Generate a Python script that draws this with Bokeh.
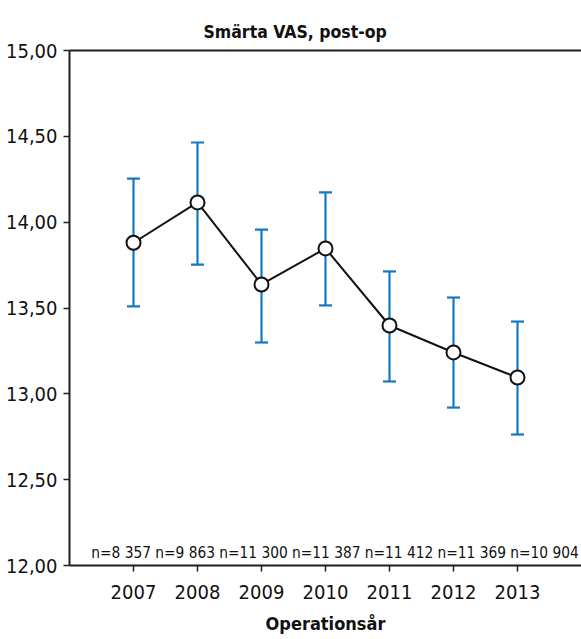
from bokeh.plotting import figure
from bokeh.models import (ColumnDataSource, Whisker, TeeHead, LinearAxis, Range1d,
                          FixedTicker, CustomJSTickFormatter, Label, Title)
from bokeh.embed import file_html
from bokeh.resources import INLINE

years = [2007, 2008, 2009, 2010, 2011, 2012, 2013]
means = [13.88, 14.115, 13.637, 13.847, 13.398, 13.241, 13.095]
upper = [14.254, 14.464, 13.957, 14.173, 13.713, 13.561, 13.421]
lower = [13.509, 13.753, 13.299, 13.515, 13.072, 12.92, 12.763]
n_labels = ["n=8 357", "n=9 863", "n=11 300", "n=11 387", "n=11 412", "n=11 369", "n=10 904"]
y_ticks = [12.0, 12.5, 13.0, 13.5, 14.0, 14.5, 15.0]

FONT = "DejaVu Sans Condensed"
BLUE = "#1479c2"
AXC = "#1e1e1e"

src = ColumnDataSource(dict(x=years, y=means, up=upper, lo=lower))

p = figure(frame_width=512, frame_height=515, output_backend="svg", toolbar_location=None,
           x_range=Range1d(years[0] - 1, years[-1] + 1),
           y_range=Range1d(y_ticks[0], y_ticks[-1]),
           min_border_left=69, min_border_right=0, min_border_top=50, min_border_bottom=74,
           x_axis_location=None, y_axis_location=None)
p.outline_line_color = None
p.grid.visible = False
p.background_fill_color = "white"
p.border_fill_color = "white"

# top frame line (added first so it sits right on the frame)
top = LinearAxis(ticker=FixedTicker(ticks=[]))
top.axis_line_color = AXC
top.axis_line_width = 2
top.major_tick_line_color = None
top.minor_tick_line_color = None
top.major_label_text_font_size = "0px"
top.major_label_standoff = 0
p.add_layout(top, "above")

# title
t = Title(text="Smärta VAS, post-op", align="left", offset=134,
          text_font=FONT, text_font_size="17.5px", text_font_style="bold", text_color="#111111",
          standoff=18)
p.add_layout(t, "above")

# axes
xa = LinearAxis(ticker=FixedTicker(ticks=years),
                axis_label="Operationsår")
xa.axis_line_color = AXC
xa.axis_line_width = 2
xa.major_tick_line_color = AXC
xa.major_tick_line_width = 1.5
xa.major_tick_out = 6
xa.major_tick_in = 0
xa.minor_tick_line_color = None
xa.major_label_text_font = FONT
xa.major_label_text_font_size = "20px"
xa.major_label_text_color = "#111111"
xa.major_label_standoff = 13
xa.axis_label_text_font = FONT
xa.axis_label_text_font_size = "18px"
xa.axis_label_text_font_style = "bold"
xa.axis_label_text_color = "#111111"
xa.axis_label_standoff = 11
p.add_layout(xa, "below")

ya = LinearAxis(ticker=FixedTicker(ticks=y_ticks),
                formatter=CustomJSTickFormatter(code="return tick.toFixed(2).replace('.', ',');"))
ya.axis_line_color = AXC
ya.axis_line_width = 2
ya.major_tick_line_color = AXC
ya.major_tick_line_width = 1.5
ya.major_tick_out = 6
ya.major_tick_in = 0
ya.minor_tick_line_color = None
ya.major_label_text_font = FONT
ya.major_label_text_font_size = "20px"
ya.major_label_text_color = "#111111"
ya.major_label_standoff = 6
p.add_layout(ya, "left")

# error bars
w = Whisker(source=src, base="x", upper="up", lower="lo", dimension="height",
            line_color=BLUE, line_width=2.2,
            upper_head=TeeHead(size=13, line_color=BLUE, line_width=2.2),
            lower_head=TeeHead(size=13, line_color=BLUE, line_width=2.2))
p.add_layout(w)

p.line("x", "y", source=src, line_color="#111111", line_width=2)
p.scatter("x", "y", source=src, size=14, fill_color="white", line_color="#111111", line_width=2)

# n labels as one running line of text
p.add_layout(Label(x=years[0] - 0.66, y=y_ticks[0], y_offset=4, text=" ".join(n_labels),
                   text_font=FONT, text_font_size="15.3px", text_color="#111111",
                   text_baseline="bottom", text_align="left"))

open("out.html", "w").write(file_html(p, INLINE))
